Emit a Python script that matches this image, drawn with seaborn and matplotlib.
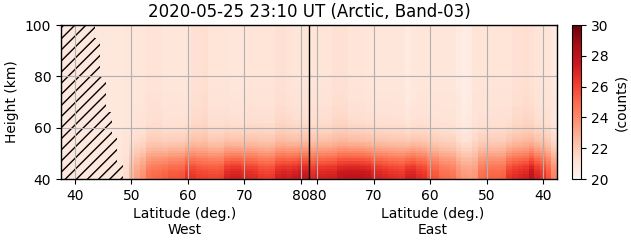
import numpy as np
import pandas as pd
import matplotlib
matplotlib.use("Agg")
import matplotlib.pyplot as plt
import seaborn as sns

# ---------------- data ----------------
title = "2020-05-25 23:10 UT (Arctic, Band-03)"
vmin, vmax = 20, 30

# column centres (1-degree bins), West half from 38 to 81, East half from 81 down to 38
west_lat = list(range(38, 82))
east_lat = list(range(81, 37, -1))

# intensity (counts) at the bottom row (40 km), West half lat 38..81
west_bottom = [20.8, 20.8, 20.8, 20.8, 20.8, 20.8, 20.8, 20.8, 20.8, 20.8,
               21.0, 21.4,
               22.6, 23.3, 23.8, 24.8, 25.0, 25.1, 25.3, 25.6, 25.6, 25.7,
               26.6, 26.5, 26.2, 26.1, 26.0, 26.0, 26.1,
               27.1, 27.3, 27.3, 27.0, 26.9, 26.8,
               26.4, 26.3, 26.4,
               27.2, 27.4, 27.3, 27.5, 27.8, 27.7]
# intensity at the bottom row, East half lat 81..38
east_bottom = [26.9, 27.2, 27.2, 27.3, 27.3,
               27.8, 27.9, 28.0, 28.0, 27.9, 27.8,
               27.3, 27.2, 27.0,
               26.8, 26.7, 26.6,
               27.2, 27.3, 26.8, 26.6,
               25.8, 25.6, 25.0, 24.9, 24.7,
               24.0, 23.6, 23.5, 23.6,
               24.9, 25.1, 25.2, 25.2, 25.3,
               26.5, 26.8, 27.0, 27.2, 28.0,
               27.1, 26.6, 25.6, 24.2]

# upper-level background (counts), same column order
west_bg = [20.8, 20.8, 20.8, 20.8, 20.8, 20.8, 20.8, 20.8, 20.8, 20.8,
           20.8, 20.9, 20.9, 20.9, 20.9,
           21.1, 21.1, 21.1,
           20.9, 20.9, 20.9, 20.9, 20.9,
           21.2, 21.2, 21.3,
           21.0, 21.0, 21.0, 21.0,
           20.9, 20.9, 20.9,
           21.0, 21.0, 21.0, 21.0, 21.0,
           21.2, 21.2, 21.1,
           21.0, 21.0, 21.0]
east_bg = [21.0, 21.0, 21.0, 21.0,
           21.2, 21.2, 21.2,
           21.0, 21.0, 21.0,
           20.9, 20.9, 20.9, 20.9, 20.9, 20.9, 20.9,
           20.6, 20.8, 20.9, 20.9, 20.9, 20.9, 20.9, 20.9, 20.9,
           20.7, 20.5, 20.6,
           21.0, 21.0, 21.0, 21.0, 21.0, 21.0, 21.0,
           21.2, 21.2, 21.3, 21.2,
           21.0, 21.0, 21.0, 20.7]

# height rows (1 km), bottom to top, and relative vertical profile of enhancement
heights = list(range(40, 100))
profile = [1.00, 0.98, 0.95, 0.91, 0.86, 0.80, 0.73, 0.66, 0.59, 0.52,
           0.45, 0.39, 0.33, 0.28, 0.24, 0.20, 0.17, 0.145, 0.12, 0.10,
           0.085, 0.07, 0.06, 0.05, 0.045, 0.04, 0.035, 0.03, 0.025, 0.02,
           0.015, 0.015, 0.01, 0.01, 0.005, 0.005, 0.0, 0.0, 0.0, 0.0,
           0.0, 0.0, 0.0, 0.0, 0.0, 0.0, 0.0, 0.0, 0.0, 0.0,
           0.0, 0.0, 0.0, 0.0, 0.0, 0.0, 0.0, 0.0, 0.0, 0.0]

# no-data (hatched) region on the West side: edge latitude per height band
hatch_h_edges = [40, 46, 57, 66, 80, 95, 100]
hatch_lat_edge = [48.5, 47.5, 46.5, 45.5, 44.5, 43.5]

tick_lats = [40, 50, 60, 70, 80]
height_ticks = [40, 60, 80, 100]

# ---------------- build table ----------------
lat_west0 = 37.5      # left edge of West half
lat_turn = 81.5       # turning latitude (centre line)
n_half = len(west_lat)

bottom = np.array(west_bottom + east_bottom)
bg = np.array(west_bg + east_bg)
prof = np.array(profile)
field = bg[None, :] + (bottom - bg)[None, :] * prof[:, None]
cols = [f"W{l}" for l in west_lat] + [f"E{l}" for l in east_lat]
df = pd.DataFrame(field[::-1], index=heights[::-1], columns=cols)

def u_west(lat):
    return lat - lat_west0

def u_east(lat):
    return n_half + (lat_turn - lat)

def y_of(h):
    return heights[-1] + 1 - h

# ---------------- plot ----------------
fig = plt.figure(figsize=(6.31, 2.43), dpi=100)
ax = fig.add_axes([61 / 631, 64 / 243, 496 / 631, 154 / 243])
cax = fig.add_axes([572 / 631, 64 / 243, 9 / 631, 154 / 243])

sns.heatmap(df, ax=ax, cbar_ax=cax, cmap="Reds", vmin=vmin, vmax=vmax,
            xticklabels=False, yticklabels=False)

for sp in ax.spines.values():
    sp.set_visible(True)
    sp.set_color("black")
    sp.set_linewidth(1.0)
    sp.set_zorder(5)

# hatched no-data area
hy, hx = [], []
for i, le in enumerate(hatch_lat_edge):
    hy += [y_of(hatch_h_edges[i]), y_of(hatch_h_edges[i + 1])]
    hx += [u_west(le), u_west(le)]
ax.fill_betweenx(hy, 0, hx, facecolor="none", edgecolor="black",
                 hatch="///", linewidth=0, zorder=2)

# centre line
ax.axvline(n_half, color="black", lw=1.0, zorder=4)

xt = [u_west(l) for l in tick_lats] + [u_east(l) for l in tick_lats]
ax.set_xticks(xt)
ax.set_xticklabels([str(l) for l in tick_lats] * 2, rotation=0, fontsize=10)
ax.set_yticks([y_of(h) for h in height_ticks])
ax.set_yticklabels([str(h) for h in height_ticks], rotation=0, fontsize=10)
ax.tick_params(axis="both", length=3.5, width=0.8, color="black")
ax.set_xlim(0, 2 * n_half)
ax.set_ylim(y_of(40), y_of(100))
ax.grid(True, color="#b0b0b0", lw=0.8, zorder=3)
ax.set_axisbelow(False)
ax.set_xlabel("")
ax.set_ylabel("Height (km)", fontsize=10)
ax.set_title(title, fontsize=12, pad=6)

trans = matplotlib.transforms.blended_transform_factory(ax.transData, ax.transAxes)
ax.text(n_half / 2, -0.185, "Latitude (deg.)\nWest", transform=trans,
        ha="center", va="top", fontsize=10, linespacing=1.1)
ax.text(n_half * 1.5, -0.185, "Latitude (deg.)\nEast", transform=trans,
        ha="center", va="top", fontsize=10, linespacing=1.1)

cb = ax.collections[0].colorbar
cb.outline.set_visible(True)
cb.outline.set_linewidth(0.8)
cb.outline.set_edgecolor("black")
cb.set_ticks([20, 22, 24, 26, 28, 30])
cb.ax.tick_params(labelsize=10, length=3.5, width=0.8)
cb.set_label("(counts)", fontsize=10)

fig.savefig("out.png", dpi=100)
